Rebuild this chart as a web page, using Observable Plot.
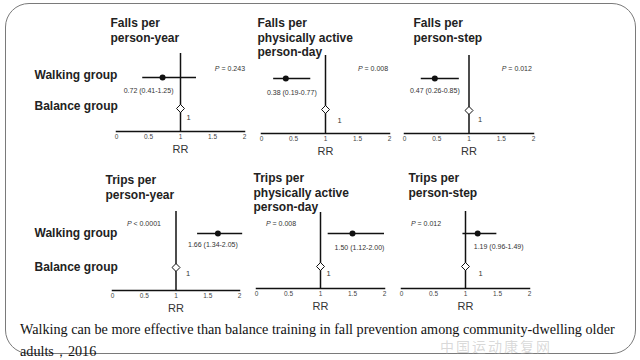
<!DOCTYPE html>
<html><head><meta charset="utf-8">
<script src="https://cdn.jsdelivr.net/npm/d3@7"></script>
<script src="https://cdn.jsdelivr.net/npm/@observablehq/plot@0.6"></script>
<style>
html,body{margin:0;padding:0;background:#fff;}
#stage{position:relative;width:640px;height:360px;overflow:hidden;background:#fff;font-family:Arial,"Liberation Sans",sans-serif;}
#border{position:absolute;left:5px;top:3px;width:631px;height:351px;border:1.5px solid #7a7a7a;border-radius:24px;box-sizing:border-box;}
.panel{position:absolute;}
.panel svg{background:transparent !important;}
#caption{position:absolute;left:20px;top:318px;width:615px;font-family:"Liberation Serif",serif;font-size:14.2px;line-height:22px;color:#111;white-space:nowrap;}
#wm{position:absolute;left:440px;top:339px;font-family:"Noto Sans CJK SC",sans-serif;font-size:14px;line-height:14px;color:rgba(170,170,170,0.45);letter-spacing:2px;}
</style></head>
<body><div id="stage"><div id="border"></div></div>
<script>
// ---- data ----
const groups = ["Walking group", "Balance group"];
const panelTitles = [
  ["Falls per", "person-year"],
  ["Falls per", "physically active", "person-day"],
  ["Falls per", "person-step"],
  ["Trips per", "person-year"],
  ["Trips per", "physically active", "person-day"],
  ["Trips per", "person-step"]
];
const rrValues = [0.72, 0.38, 0.47, 1.66, 1.50, 1.19];
const ciLow = [0.41, 0.19, 0.26, 1.34, 1.12, 0.96];
const ciHigh = [1.25, 0.77, 0.85, 2.05, 2.00, 1.49];
const rrLabels = ["0.72 (0.41-1.25)", "0.38 (0.19-0.77)", "0.47 (0.26-0.85)", "1.66 (1.34-2.05)", "1.50 (1.12-2.00)", "1.19 (0.96-1.49)"];
const pValues = ["= 0.243", "= 0.008", "= 0.012", "< 0.0001", "= 0.008", "= 0.012"];
const refRR = 1;
const refLabel = "1";
const xTicks = [0, 0.5, 1, 1.5, 2];
const tickLabels = ["0", "0.5", "1", "1.5", "2"];
const axisTitle = "RR";
const captionLines = ["Walking can be more effective than balance training in fall prevention among community-dwelling older", "adults，2016"];
const watermark = "中国运动康复网";

// ---- layout (page pixels) ----
const layout = [
  {left:20,  top:0,   h:160, x0:116, x2:244, yTop:53,  yAxis:131, yWalk:77,  yBal:108, titleX:110, titleTop:16.5,  pX:1.61, pDy:13, estDx:-14, estDy:13, oneDx:8,  oneDy:9,  labels:true, labelDy:-2},
  {left:245, top:0,   h:160, x0:261, x2:389, yTop:55,  yAxis:133, yWalk:78,  yBal:109, titleX:257, titleTop:16.5,  pX:1.58, pDy:11, estDx:6,   estDy:14, oneDx:14, oneDy:11, labels:false},
  {left:395, top:0,   h:160, x0:404, x2:533, yTop:55,  yAxis:133, yWalk:78,  yBal:110, titleX:413, titleTop:16.5,  pX:1.58, pDy:11, estDx:0,   estDy:12, oneDx:11, oneDy:9,  labels:false},
  {left:20,  top:160, h:165, x0:112, x2:239, yTop:211, yAxis:290, yWalk:233, yBal:267, titleX:105, titleTop:173.5, pX:0.30, pDy:10, estDx:-5,  estDy:11, oneDx:12, oneDy:6,  labels:true, labelDy:0},
  {left:240, top:160, h:165, x0:256, x2:384, yTop:212, yAxis:288, yWalk:233, yBal:266, titleX:253, titleTop:171.5, pX:0.22, pDy:9,  estDx:7,   estDy:14, oneDx:8,  oneDy:7,  labels:false},
  {left:390, top:160, h:165, x0:401, x2:529, yTop:211, yAxis:288, yWalk:233, yBal:266, titleX:408, titleTop:171.5, pX:0.22, pDy:10, estDx:21,  estDy:13, oneDx:15, oneDy:7,  labels:false}
];
const labelX = 34;
const font = "Arial, 'Liberation Sans', sans-serif";

function makePanel(i) {
  const L = layout[i];
  const ML = L.x0 - L.left, MR = 20;
  const W = ML + (L.x2 - L.x0) + MR;
  const rows = [{group: groups[0], rr: rrValues[i], lo: ciLow[i], hi: ciHigh[i], label: rrLabels[i]}];
  const ref = [{group: groups[1], rr: refRR, label: refLabel}];
  const marks = [
    Plot.ruleX([refRR], {stroke: "#111", strokeWidth: 1.5}),
    Plot.frame({anchor: "bottom", stroke: "#111", strokeWidth: 1.5}),
    Plot.text(xTicks, {x: d => d, frameAnchor: "bottom", dy: 7, text: (d, k) => tickLabels[k], fontSize: 6.5, fill: "#444"}),
    Plot.text([axisTitle], {x: () => refRR, frameAnchor: "bottom", dy: 21, fontSize: 11, fill: "#333"}),
    Plot.ruleY(rows, {y: "group", x1: "lo", x2: "hi", stroke: "#111", strokeWidth: 1.5}),
    Plot.dot(rows, {x: "rr", y: "group", r: 3, fill: "#111"}),
    Plot.dot(ref, {x: "rr", y: "group", symbol: "diamond2", r: 3.6, fill: "white", stroke: "#111", strokeWidth: 1}),
    Plot.text(rows, {x: "rr", y: "group", text: "label", dx: L.estDx, dy: L.estDy, fontSize: 7, fill: "#333"}),
    Plot.text(ref, {x: "rr", y: "group", text: "label", dx: L.oneDx, dy: L.oneDy, fontSize: 7.5, fill: "#333"}),
    Plot.text([pValues[i]], {x: () => L.pX, frameAnchor: "top", dy: L.pDy, text: () => "P", fontStyle: "italic", textAnchor: "end", fontSize: 7, fill: "#333"}),
    Plot.text([pValues[i]], {x: () => L.pX, frameAnchor: "top", dy: L.pDy, text: d => "\u00a0" + d, textAnchor: "start", fontSize: 7, fill: "#333"}),
    Plot.text([panelTitles[i].join("\n")], {frameAnchor: "top-left", dx: L.titleX - L.x0, dy: L.titleTop - L.yTop, textAnchor: "start", lineAnchor: "top", lineHeight: 1.2, fontSize: 12, fontWeight: "bold", fill: "#222"})
  ];
  if (L.labels) {
    marks.push(Plot.text(groups, {y: d => d, frameAnchor: "left", dx: labelX - L.x0, dy: L.labelDy, textAnchor: "start", fontSize: 12, fontWeight: "bold", fill: "#222"}));
  }
  const svg = Plot.plot({
    width: W, height: L.h,
    marginLeft: ML, marginRight: MR,
    marginTop: L.yTop - L.top, marginBottom: L.h - (L.yAxis - L.top),
    style: {background: "transparent", fontFamily: font, overflow: "visible"},
    x: {domain: [0, 2], axis: null},
    y: {type: "point", domain: groups, range: [L.yWalk - L.top, L.yBal - L.top], padding: 0, axis: null},
    marks
  });
  const div = document.createElement("div");
  div.className = "panel";
  div.style.left = L.left + "px";
  div.style.top = L.top + "px";
  div.style.width = W + "px";
  div.style.height = L.h + "px";
  div.appendChild(svg);
  return div;
}

const stage = document.getElementById("stage");
for (let i = 0; i < layout.length; i++) stage.appendChild(makePanel(i));

const wm = document.createElement("div");
wm.id = "wm"; wm.textContent = watermark;
stage.appendChild(wm);

const cap = document.createElement("div");
cap.id = "caption";
cap.innerHTML = captionLines.join("<br>");
stage.appendChild(cap);
</script>
</body></html>
